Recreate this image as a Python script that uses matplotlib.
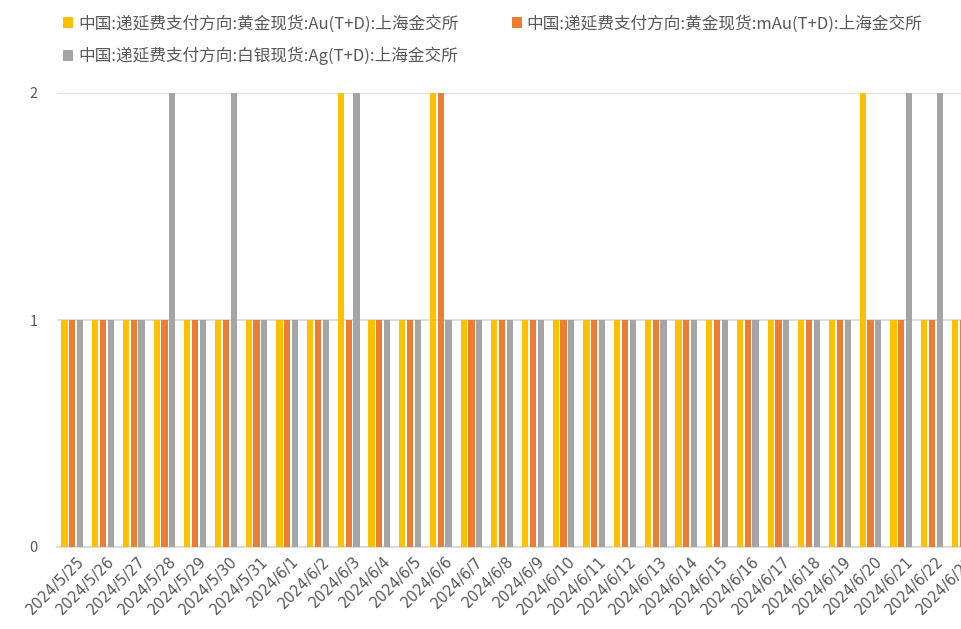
import matplotlib.pyplot as plt
import matplotlib.transforms as mtransforms
import numpy as np
from matplotlib.patches import Patch

plt.rcParams["font.family"] = ["Noto Sans CJK SC", "DejaVu Sans"]

dates = [
    "2024/5/25", "2024/5/26", "2024/5/27", "2024/5/28", "2024/5/29", "2024/5/30",
    "2024/5/31", "2024/6/1", "2024/6/2", "2024/6/3", "2024/6/4", "2024/6/5",
    "2024/6/6", "2024/6/7", "2024/6/8", "2024/6/9", "2024/6/10", "2024/6/11",
    "2024/6/12", "2024/6/13", "2024/6/14", "2024/6/15", "2024/6/16", "2024/6/17",
    "2024/6/18", "2024/6/19", "2024/6/20", "2024/6/21", "2024/6/22", "2024/6/23",
]
au_td = [1, 1, 1, 1, 1, 1, 1, 1, 1, 2, 1, 1, 2, 1, 1,
         1, 1, 1, 1, 1, 1, 1, 1, 1, 1, 1, 2, 1, 1, 1]
mau_td = [1, 1, 1, 1, 1, 1, 1, 1, 1, 1, 1, 1, 2, 1, 1,
          1, 1, 1, 1, 1, 1, 1, 1, 1, 1, 1, 1, 1, 1, 1]
ag_td = [1, 1, 1, 2, 1, 2, 1, 1, 1, 2, 1, 1, 1, 1, 1,
         1, 1, 1, 1, 1, 1, 1, 1, 1, 1, 1, 1, 2, 2, 1]

labels = [
    "中国:递延费支付方向:黄金现货:Au(T+D):上海金交所",
    "中国:递延费支付方向:黄金现货:mAu(T+D):上海金交所",
    "中国:递延费支付方向:白银现货:Ag(T+D):上海金交所",
]
colors = ["#FFC000", "#ED7D31", "#A5A5A5"]
text_color = "#595959"

fig = plt.figure(figsize=(9.61, 6.29), dpi=100)
# plot area runs past the right edge, as in the source image
ax = fig.add_axes([57 / 961, 1 - 547 / 629, 921 / 961, 454 / 629])

x = np.arange(len(dates))
width = 0.2
step = 0.254
for i, (vals, color) in enumerate(zip([au_td, mau_td, ag_td], colors)):
    ax.bar(x + (i - 1) * step, vals, width=width, color=color, zorder=3)

ax.set_xlim(-0.5, len(dates) - 0.5)
ax.set_ylim(0, 2)
ax.set_yticks([0, 1, 2])
ax.yaxis.grid(True, color="#D9D9D9", linewidth=1.2, zorder=0)
for side in ["top", "right", "left"]:
    ax.spines[side].set_visible(False)
ax.spines["bottom"].set_color("#D9D9D9")
ax.spines["bottom"].set_linewidth(1.2)
ax.tick_params(axis="both", length=0, colors=text_color)
ax.tick_params(axis="y", labelsize=10.5, pad=14)

ax.set_xticks(x)
ax.set_xticklabels(dates, rotation=45, ha="right", rotation_mode="anchor",
                   fontsize=10.5, family="DejaVu Sans", color=text_color)
offset = mtransforms.ScaledTranslation(4 / 100, -2 / 100, fig.dpi_scale_trans)
for lbl in ax.get_xticklabels():
    lbl.set_transform(lbl.get_transform() + offset)

handles = [Patch(facecolor=c, edgecolor="none", label=l) for c, l in zip(colors, labels)]
order = [0, 2, 1]
fig.legend(
    [handles[i] for i in order], [labels[i] for i in order],
    loc="upper left", bbox_to_anchor=(48 / 961, 1 - 0 / 629),
    ncol=2, frameon=False, fontsize=12, labelcolor=text_color,
    handlelength=0.6, handleheight=0.6, handletextpad=0.3,
    columnspacing=3.2, labelspacing=0.85,
)

fig.savefig("out.png", dpi=100)
